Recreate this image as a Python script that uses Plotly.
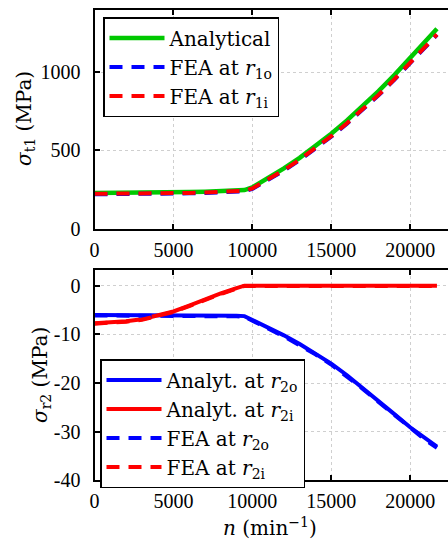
import plotly.graph_objects as go

# ---------------- data ----------------
n = [0, 1000, 2000, 3000, 4000, 5000, 6000, 7000, 8000, 9000, 9500,
     10000, 11000, 12000, 13000, 14000, 15000, 16000, 17000, 18000,
     19000, 20000, 21000, 21700]

# top panel: tangential stress sigma_t1 (MPa)
sig_t1_analytical = [227, 227, 228, 228, 230, 231, 233, 236, 239, 243, 246,
                     263, 320, 384, 452, 526, 606, 691, 782, 878,
                     980, 1087, 1199, 1276]
sig_t1_fea_r1o = [219, 219, 220, 220, 222, 223, 225, 228, 231, 235, 238,
                  253, 308, 370, 437, 509, 587, 670, 758, 851,
                  950, 1054, 1163, 1237]
sig_t1_fea_r1i = [222, 222, 223, 223, 225, 226, 228, 231, 234, 238, 241,
                  256, 311, 373, 440, 512, 590, 673, 761, 854,
                  953, 1057, 1166, 1240]

# bottom panel: radial stress sigma_r2 (MPa)
sig_r2_analyt_r2o = [-6.0, -6.0, -6.0, -6.05, -6.05, -6.1, -6.1, -6.15, -6.2, -6.2, -6.25,
                     -7.0, -8.6, -10.2, -12.0, -13.9, -16.0, -18.4, -21.0, -23.7,
                     -26.4, -29.1, -31.6, -33.1]
sig_r2_analyt_r2i = [-7.7, -7.6, -7.3, -6.9, -6.2, -5.3, -4.1, -2.8, -1.6, -0.5, 0.0,
                     0.0, 0.0, 0.0, 0.0, 0.0, 0.0, 0.0, 0.0, 0.0,
                     0.0, 0.0, 0.0, 0.0]
sig_r2_fea_r2o = [-6.1, -6.1, -6.1, -6.1, -6.15, -6.2, -6.2, -6.25, -6.3, -6.3, -6.35,
                  -7.1, -8.8, -10.4, -12.2, -14.1, -16.2, -18.6, -21.2, -23.9,
                  -26.6, -29.3, -31.8, -33.3]
sig_r2_fea_r2i = [-7.8, -7.7, -7.4, -7.0, -6.3, -5.4, -4.2, -2.9, -1.7, -0.6, -0.05,
                  -0.05, -0.05, -0.05, -0.05, -0.05, -0.05, -0.05, -0.05, -0.05,
                  -0.05, -0.05, -0.05, -0.05]

x_tickvals = [0, 5000, 10000, 15000, 20000]
x_ticktext = ["0", "5000", "10000", "15000", "20000"]
y1_tickvals = [0, 500, 1000]
y1_ticktext = ["0", "500", "1000"]
y2_tickvals = [0, -10, -20, -30, -40]
y2_ticktext = ["0", "-10", "-20", "-30", "-40"]

y1_title = "<i>σ</i><sub>t1</sub> (MPa)"
y2_title = "<i>σ</i><sub>r2</sub> (MPa)"
x_title = "<i>n</i> (min<sup>−1</sup>)"

# ---------------- style ----------------
W, H = 448, 540
FONT = "Liberation Serif"
TFONT = "DejaVu Serif"
GREEN, BLUE, RED = "rgb(0,200,0)", "rgb(0,0,255)", "rgb(255,0,0)"
DASH = "13px,9px"
LW = 4

fig = go.Figure()
fig.add_trace(go.Scatter(x=n, y=sig_t1_analytical, mode="lines", name="Analytical",
                         line=dict(color=GREEN, width=LW + 0.5), xaxis="x", yaxis="y",
                         legend="legend"))
fig.add_trace(go.Scatter(x=n, y=sig_t1_fea_r1o, mode="lines", name="FEA at <i>r</i><sub>1o</sub>",
                         line=dict(color=BLUE, width=LW, dash=DASH), xaxis="x", yaxis="y",
                         legend="legend"))
fig.add_trace(go.Scatter(x=n, y=sig_t1_fea_r1i, mode="lines", name="FEA at <i>r</i><sub>1i</sub>",
                         line=dict(color=RED, width=LW, dash=DASH), xaxis="x", yaxis="y",
                         legend="legend"))

fig.add_trace(go.Scatter(x=n, y=sig_r2_analyt_r2o, mode="lines", name="Analyt. at <i>r</i><sub>2o</sub>",
                         line=dict(color=BLUE, width=LW), xaxis="x2", yaxis="y2",
                         legend="legend2"))
fig.add_trace(go.Scatter(x=n, y=sig_r2_analyt_r2i, mode="lines", name="Analyt. at <i>r</i><sub>2i</sub>",
                         line=dict(color=RED, width=LW), xaxis="x2", yaxis="y2",
                         legend="legend2"))
fig.add_trace(go.Scatter(x=n, y=sig_r2_fea_r2o, mode="lines", name="FEA at <i>r</i><sub>2o</sub>",
                         line=dict(color=BLUE, width=LW, dash=DASH), xaxis="x2", yaxis="y2",
                         legend="legend2"))
fig.add_trace(go.Scatter(x=n, y=sig_r2_fea_r2i, mode="lines", name="FEA at <i>r</i><sub>2i</sub>",
                         line=dict(color=RED, width=LW, dash=DASH), xaxis="x2", yaxis="y2",
                         legend="legend2"))

x_left = 94.5 / W
common_ax = dict(showline=True, linecolor="black", linewidth=2, ticks="inside",
                 ticklen=5, tickwidth=1.5, tickcolor="black", showgrid=True,
                 gridcolor="#cfcfcf", griddash="dot", gridwidth=1, zeroline=False,
                 automargin=False, tickfont=dict(family=FONT, size=20, color="black"))

legend_common = dict(xanchor="left", yanchor="top", bgcolor="white",
                     bordercolor="black", borderwidth=1.5,
                     font=dict(family=TFONT, size=20, color="black"),
                     itemwidth=55, tracegroupgap=0)

title_font = dict(family=TFONT, size=20, color="black")

fig.update_layout(
    width=W, height=H,
    margin=dict(l=0, r=0, t=0, b=0),
    paper_bgcolor="white", plot_bgcolor="white",
    font=dict(family=FONT, size=20, color="black"),
    xaxis=dict(domain=[x_left, 1], anchor="y", range=[0, 22400], mirror="ticks",
               tickvals=x_tickvals, ticktext=x_ticktext, ticklabelstandoff=2, **common_ax),
    yaxis=dict(domain=[1 - 228.6 / H, 1 - 10 / H], anchor="x", range=[0, 1396],
               tickvals=y1_tickvals, ticktext=y1_ticktext, ticklabelstandoff=8, **common_ax),
    xaxis2=dict(domain=[x_left, 1], anchor="y2", range=[0, 22400], mirror="ticks",
                tickvals=x_tickvals, ticktext=x_ticktext, ticklabelstandoff=2, **common_ax),
    yaxis2=dict(domain=[1 - 480.3 / H, 1 - 270 / H], anchor="x2", range=[-40, 3.23],
                tickvals=y2_tickvals, ticktext=y2_ticktext, ticklabelstandoff=8, **common_ax),
    legend=dict(x=103 / W, y=1 - 17 / H, **legend_common),
    legend2=dict(x=100 / W, y=1 - 359 / H, **legend_common),
    showlegend=True,
    annotations=[
        dict(text=y1_title, textangle=-90, xref="paper", yref="paper",
             x=25 / W, y=1 - 119 / H, xanchor="center", yanchor="middle",
             showarrow=False, font=title_font),
        dict(text=y2_title, textangle=-90, xref="paper", yref="paper",
             x=41 / W, y=1 - 375 / H, xanchor="center", yanchor="middle",
             showarrow=False, font=title_font),
        dict(text=x_title, xref="paper", yref="paper",
             x=270 / W, y=1 - 527 / H, xanchor="center", yanchor="middle",
             showarrow=False, font=title_font),
    ],
)

fig.write_html("out.html", config={"displayModeBar": False},
               post_script="document.body.style.margin='0';document.body.style.overflow='hidden';")
